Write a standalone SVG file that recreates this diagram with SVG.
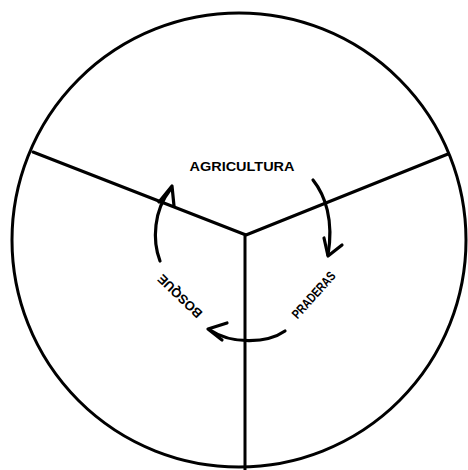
<svg xmlns="http://www.w3.org/2000/svg" width="468" height="470" viewBox="0 0 468 470">
<style>
.ln{fill:none;stroke:#000;stroke-width:3;stroke-linecap:round;stroke-linejoin:round}
.ar{fill:none;stroke:#000;stroke-width:3.2;stroke-linecap:round;stroke-linejoin:round}
.lb{font-family:"Liberation Sans",Arial,sans-serif;font-weight:bold;fill:#000}
</style>
<rect width="468" height="470" fill="#fff"/>
<g id="frame">
<circle cx="239" cy="240" r="227" class="ln" stroke-width="2.8"/>
<path d="M33,152 L246,235 L448,154 M245,235 L245,470" class="ln"/>
</g>
<g id="agricultura">
<text x="242" y="171" text-anchor="middle" class="lb" font-size="12.5" textLength="105" lengthAdjust="spacingAndGlyphs">AGRICULTURA</text>
</g>
<g id="praderas">
<text transform="translate(317,298) rotate(-48)" x="0" y="0" text-anchor="middle" class="lb" font-size="13" textLength="58" lengthAdjust="spacingAndGlyphs">PRADERAS</text>
</g>
<g id="bosque">
<text transform="translate(183,293) rotate(224)" x="0" y="0" text-anchor="middle" class="lb" font-size="13" textLength="56" lengthAdjust="spacingAndGlyphs">BOSQUE</text>
</g>
<g id="connectors">
<path d="M313,180 C325,195 334,220 328,255" class="ar"/>
<path d="M324,238 L328,256 L342,245" class="ar"/>
<path d="M285,331 C268,343 232,345 210,330" class="ar"/>
<path d="M227,323 L208,329 L222,340" class="ar"/>
<path d="M160,261 C152,240 154,210 170,190" class="ar"/>
<path d="M159,202 L172,186 L174,206" class="ar"/>
</g>
</svg>
